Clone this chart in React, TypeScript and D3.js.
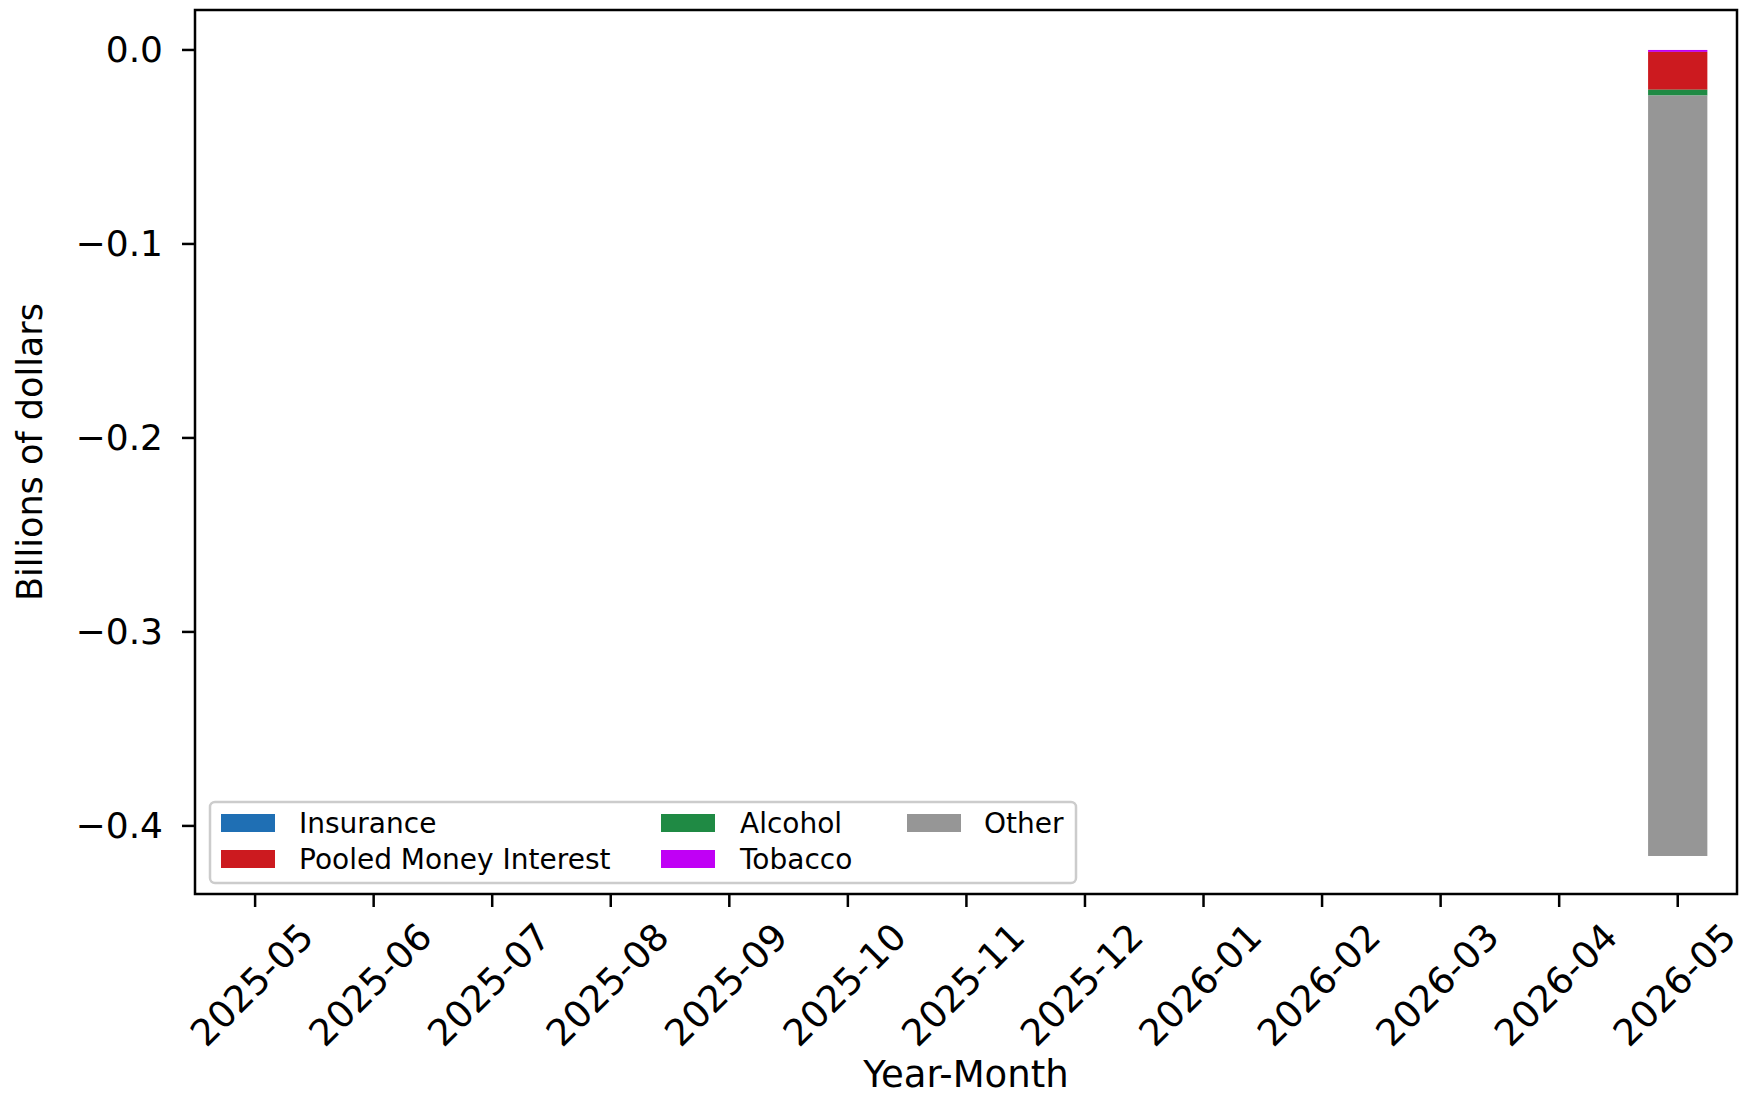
import React from "react";
import * as d3 from "d3";

const months = ["2025-05","2025-06","2025-07","2025-08","2025-09","2025-10","2025-11","2025-12","2026-01","2026-02","2026-03","2026-04","2026-05"];
const seriesNames = ["Insurance","Tobacco","Pooled Money Interest","Alcohol","Other"];
const insurance = [0,0,0,0,0,0,0,0,0,0,0,0,0];
const tobacco = [0,0,0,0,0,0,0,0,0,0,0,0,-0.001];
const pooledMoney = [0,0,0,0,0,0,0,0,0,0,0,0,-0.0195];
const alcohol = [0,0,0,0,0,0,0,0,0,0,0,0,-0.003];
const other = [0,0,0,0,0,0,0,0,0,0,0,0,-0.392];
const yTicks = [0.0,-0.1,-0.2,-0.3,-0.4];
const colors: Record<string,string> = {
  "Insurance": "#1f6fb4",
  "Pooled Money Interest": "#cc1a1f",
  "Alcohol": "#1f8a44",
  "Tobacco": "#c000f5",
  "Other": "#969696",
};
const legendCols = [["Insurance","Pooled Money Interest"],["Alcohol","Tobacco"],["Other"]];

export default function App() {
  const W = 1752, H = 1098;
  const left = 195, right = 1737, top = 10, bottom = 894;
  const x = d3.scaleLinear().domain([-0.507, 12.5]).range([left, right]);
  const y = d3.scaleLinear().domain([0.0206, -0.4351]).range([top, bottom]);
  const barW = x(0.5) - x(0);
  const valuesMap: Record<string, number[]> = {
    "Insurance": insurance, "Tobacco": tobacco, "Pooled Money Interest": pooledMoney, "Alcohol": alcohol, "Other": other,
  };
  const rects: any[] = [];
  months.forEach((m, i) => {
    let base = 0;
    seriesNames.forEach((s) => {
      const v = valuesMap[s][i];
      if (v !== 0) {
        const y0 = y(base), y1 = y(base + v);
        rects.push(<rect key={s + m} x={x(i) - barW / 2} width={barW} y={Math.min(y0, y1)} height={Math.abs(y1 - y0)} fill={colors[s]} />);
      }
      base += v;
    });
  });
  const font = "DejaVu Sans, sans-serif";
  const fmt = (v: number) => (v < 0 ? "\u2212" : "") + Math.abs(v).toFixed(1);
  const legX = [221, 661, 907];
  const legTextX = [299, 740, 984];
  const legY = [823, 859];
  return (
    <svg width={W} height={H} style={{ position: "absolute", left: 0, top: 0, background: "#fff" }} fontFamily={font}>
      <rect x={0} y={0} width={W} height={H} fill="#fff" />
      {rects}
      {yTicks.map((t) => (
        <g key={t}>
          <line x1={left - 13} x2={left} y1={y(t)} y2={y(t)} stroke="#000" strokeWidth={2.5} />
          <text x={left - 32} y={y(t)} textAnchor="end" dominantBaseline="central" fontSize={36}>{fmt(t)}</text>
        </g>
      ))}
      {months.map((m, i) => (
        <g key={m}>
          <line x1={x(i)} x2={x(i)} y1={bottom} y2={bottom + 13} stroke="#000" strokeWidth={2.5} />
          <text transform={`translate(${x(i) - 3},${985}) rotate(-45)`} textAnchor="middle" dominantBaseline="central" fontSize={37}>{m}</text>
        </g>
      ))}
      <g>
        <rect x={210} y={802} width={866} height={81} rx={5} fill="#fff" fillOpacity={0.8} stroke="#cccccc" strokeWidth={2.5} />
        {legendCols.map((col, ci) => col.map((s, ri) => (
          <g key={s}>
            <rect x={legX[ci]} y={legY[ri] - 9} width={54} height={18} fill={colors[s]} />
            <text x={legTextX[ci]} y={legY[ri]} dominantBaseline="central" fontSize={28}>{s}</text>
          </g>
        )))}
      </g>
      <rect x={left} y={top} width={right - left} height={bottom - top} fill="none" stroke="#000" strokeWidth={2.5} />
      <text transform={`translate(30,${(top + bottom) / 2}) rotate(-90)`} textAnchor="middle" dominantBaseline="central" fontSize={35}>Billions of dollars</text>
      <text x={(left + right) / 2} y={1087} textAnchor="middle" fontSize={37}>Year-Month</text>
    </svg>
  );
}
